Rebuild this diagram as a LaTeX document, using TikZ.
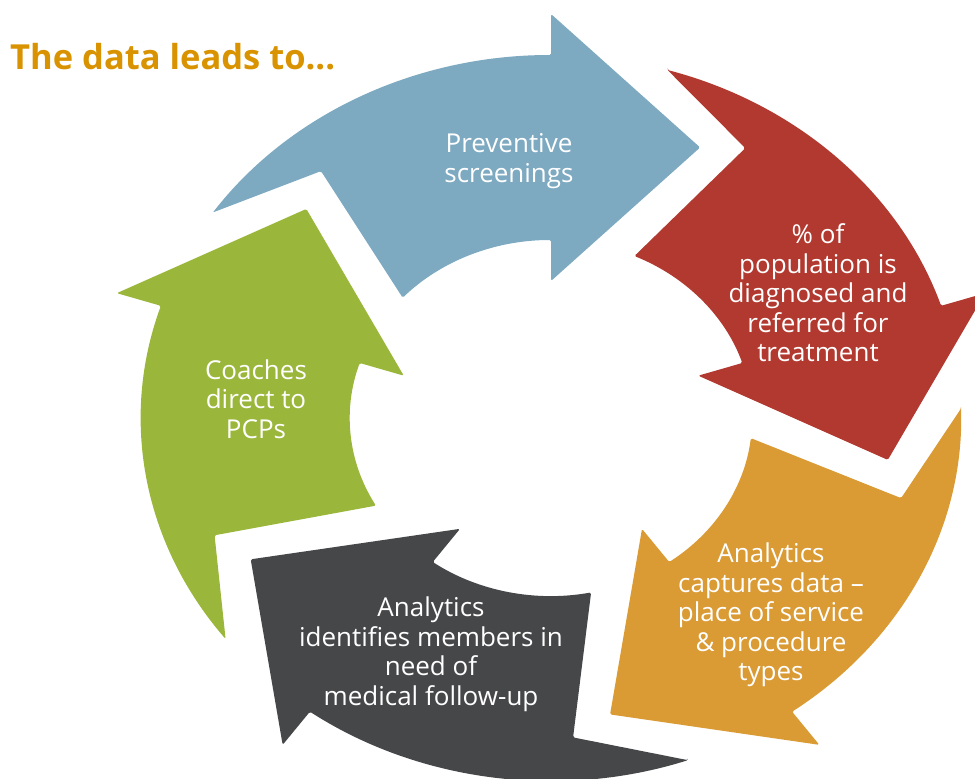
\documentclass[tikz,border=0pt]{standalone}
\usepackage{fontspec}
\setmainfont{Open Sans}
\newfontfamily\titlefont{Open Sans}
\definecolor{cblue}{HTML}{7DA9C1}
\definecolor{cred}{HTML}{B2392F}
\definecolor{corange}{HTML}{DA9A34}
\definecolor{cdark}{HTML}{464749}
\definecolor{cgreen}{HTML}{9AB73C}
\definecolor{ctitle}{HTML}{D99200}
\newcommand\cyclearrow[2]{%
  \fill[#2, rounded corners=1.5pt]
    ({#1+81.5}:363pt) -- ({#1+65.5}:320pt) -- ({#1+73.5}:178pt)
    arc[start angle={#1+73.5}, end angle={#1+26}, radius=178pt]
    -- ({#1+26}:137pt) -- (#1:301pt) -- ({#1+26}:404pt) -- ({#1+26}:363pt)
    arc[start angle={#1+26}, end angle={#1+81.5}, radius=363pt] -- cycle;}
\tikzset{lbl/.style={text=white, align=center, font=\fontsize{26}{29.5}\selectfont, inner sep=0pt}}
\begin{document}
\begin{tikzpicture}[x=1pt,y=1pt]
\useasboundingbox (0,0) rectangle (975,-779);
\clip (0,0) rectangle (975,-779);
\begin{scope}[shift={(551,-418)}, xscale=1.13]
  \cyclearrow{64}{cblue}
  \cyclearrow{-8}{cred}
  \cyclearrow{-80}{corange}
  \cyclearrow{-152}{cdark}
  \cyclearrow{-224}{cgreen}
\end{scope}
\node[anchor=base west, text=ctitle, font=\titlefont\bfseries\fontsize{34.5}{38}\selectfont, inner sep=0pt] (title) at (10,-69) {The data leads to...};
\node[lbl] (t1) at (509,-161) {Preventive\\screenings};
\node[lbl] (t2) at (818,-293) {\% of\\population is\\diagnosed and\\referred for\\treatment};
\node[lbl] (t3) at (771,-615) {Analytics\\captures data --\\place of service\\\& procedure\\types};
\node[lbl] (t4) at (431,-654) {Analytics\\identifies members in\\need of\\medical follow-up};
\node[lbl] (t5) at (256,-399) {Coaches\\direct to\\PCPs};
\end{tikzpicture}
\end{document}
